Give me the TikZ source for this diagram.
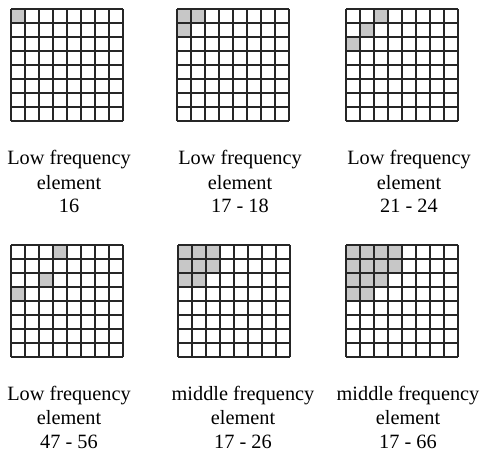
\documentclass[tikz,border=0pt]{standalone}
\usepackage{fontspec}
\setmainfont{Liberation Serif}
\tikzset{
  gridbox/.style={minimum size=112pt, inner sep=0pt, outer sep=0pt, anchor=north west},
  gline/.style={draw=black!85, line width=1.2pt},
  cellshade/.style={fill=black!22},
  lbl/.style={anchor=base, font=\fontsize{20.3}{24}\selectfont, inner sep=0pt}
}
\newcommand{\mygrid}[2]{%
  \foreach \c/\r in {#2} {\fill[cellshade, shift={(#1.north west)}] (\c*14pt,-\r*14pt) rectangle ++(14pt,-14pt);}
  \draw[gline, shift={(#1.south west)}] (0,0) grid[step=14pt] (112pt,112pt);
}
\begin{document}
\begin{tikzpicture}[x=1pt,y=1pt]
\useasboundingbox (0,0) rectangle (480,456);
% grids
\node[gridbox] (g1) at (11,447) {};
\node[gridbox] (g2) at (177,447) {};
\node[gridbox] (g3) at (346,447) {};
\node[gridbox] (g4) at (11,211) {};
\node[gridbox] (g5) at (178,211) {};
\node[gridbox] (g6) at (346,211) {};
\mygrid{g1}{0/0}
\mygrid{g2}{0/0,1/0,0/1}
\mygrid{g3}{2/0,1/1,0/2}
\mygrid{g4}{3/0,2/2,0/3}
\mygrid{g5}{0/0,1/0,2/0,0/1,1/1,2/1,0/2,1/2}
\mygrid{g6}{0/0,1/0,2/0,3/0,0/1,1/1,2/1,3/1,0/2,1/2,2/2,0/3,1/3}
% labels top row
\node[lbl] (t1a) at (69,291) {Low frequency};
\node[lbl] (t1b) at (69,266) {element};
\node[lbl] (t1c) at (69,243) {16};
\node[lbl] (t2a) at (240,291) {Low frequency};
\node[lbl] (t2b) at (240,266) {element};
\node[lbl] (t2c) at (240,243) {17 - 18};
\node[lbl] (t3a) at (409,291) {Low frequency};
\node[lbl] (t3b) at (409,266) {element};
\node[lbl] (t3c) at (409,243) {21 - 24};
% labels bottom row
\node[lbl] (b1a) at (69,56) {Low frequency};
\node[lbl] (b1b) at (69,31) {element};
\node[lbl] (b1c) at (69,8) {47 - 56};
\node[lbl] (b2a) at (243,56) {middle frequency};
\node[lbl] (b2b) at (243,31) {element};
\node[lbl] (b2c) at (243,8) {17 - 26};
\node[lbl] (b3a) at (408,56) {middle frequency};
\node[lbl] (b3b) at (408,31) {element};
\node[lbl] (b3c) at (408,8) {17 - 66};
\end{tikzpicture}
\end{document}
